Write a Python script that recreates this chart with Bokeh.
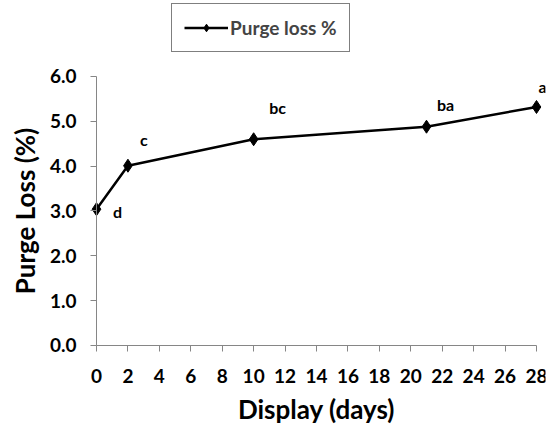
from bokeh.plotting import figure
from bokeh.models import (Range1d, FixedTicker, Legend, LegendItem, ColumnDataSource,
                          PrintfTickFormatter)
from bokeh.core.properties import value
from bokeh.embed import file_html
from bokeh.resources import INLINE

# ---- data ----
days = [0, 2, 10, 21, 28]
purge_loss = [3.04, 4.01, 4.60, 4.88, 5.32]
letters = ["d", "c", "bc", "ba", "a"]
letter_dx = [21, 16, 24, 19, 6]      # pixel offsets of the letters from their points
letter_dy = [2, -26, -32, -22, -20]
x_ticks = list(range(0, 29, 2))
y_ticks = [0, 1, 2, 3, 4, 5, 6]

FONT = "Lato"

p = figure(width=555, height=432, output_backend="svg", toolbar_location=None,
           x_range=Range1d(-6.109, 28.573), y_range=Range1d(-1.9407, 7.695),
           min_border_left=0, min_border_right=10, min_border_top=0, min_border_bottom=0,
           outline_line_color=None, background_fill_color="white")
p.grid.visible = False

src = ColumnDataSource(dict(x=days, y=purge_loss, t=letters, dx=letter_dx, dy=letter_dy))
ln = p.line("x", "y", source=src, line_color="black", line_width=2.5)
sc = p.scatter("x", "y", source=src, marker="diamond", size=13, fill_color="black",
               line_color="black")
p.text("x", "y", text="t", source=src, x_offset="dx", y_offset="dy",
       text_font=value(FONT), text_font_style="bold", text_font_size="16px",
       text_align="center", text_baseline="middle", text_color="black")

for ax in (p.xaxis[0], p.yaxis[0]):
    ax.axis_line_color = "#868686"
    ax.major_tick_line_color = "#868686"
    ax.minor_tick_line_color = None
    ax.major_tick_out = 6
    ax.major_tick_in = 0
    ax.fixed_location = 0
    ax.major_label_text_font = FONT
    ax.major_label_text_font_style = "bold"
    ax.major_label_text_font_size = "19px"
    ax.major_label_text_color = "black"
    ax.axis_label_text_font = FONT
    ax.axis_label_text_font_style = "bold"
    ax.axis_label_text_font_size = "26px"
    ax.axis_label_text_color = "black"

p.xaxis[0].ticker = FixedTicker(ticks=x_ticks)
p.xaxis[0].bounds = (0, 28)
p.xaxis[0].axis_label = "Display (days)"
p.xaxis[0].major_label_standoff = 18
p.xaxis[0].axis_label_standoff = 6

p.yaxis[0].ticker = FixedTicker(ticks=y_ticks)
p.yaxis[0].bounds = (0, 6)
p.yaxis[0].formatter = PrintfTickFormatter(format="%.1f")
p.yaxis[0].axis_label = "Purge Loss (%)"
p.yaxis[0].major_label_standoff = 14
p.yaxis[0].axis_label_standoff = 6

legend = Legend(items=[LegendItem(label="Purge loss %", renderers=[ln, sc])],
                location=(171, 432 - 52), orientation="horizontal",
                border_line_color="black", border_line_width=1,
                label_text_font=FONT, label_text_font_style="bold",
                label_text_font_size="19px", label_standoff=2,
                glyph_width=44, glyph_height=19, padding=12, margin=0,
                background_fill_color="white")
p.add_layout(legend, "center")

open("out.html", "w").write(file_html(p, INLINE))
